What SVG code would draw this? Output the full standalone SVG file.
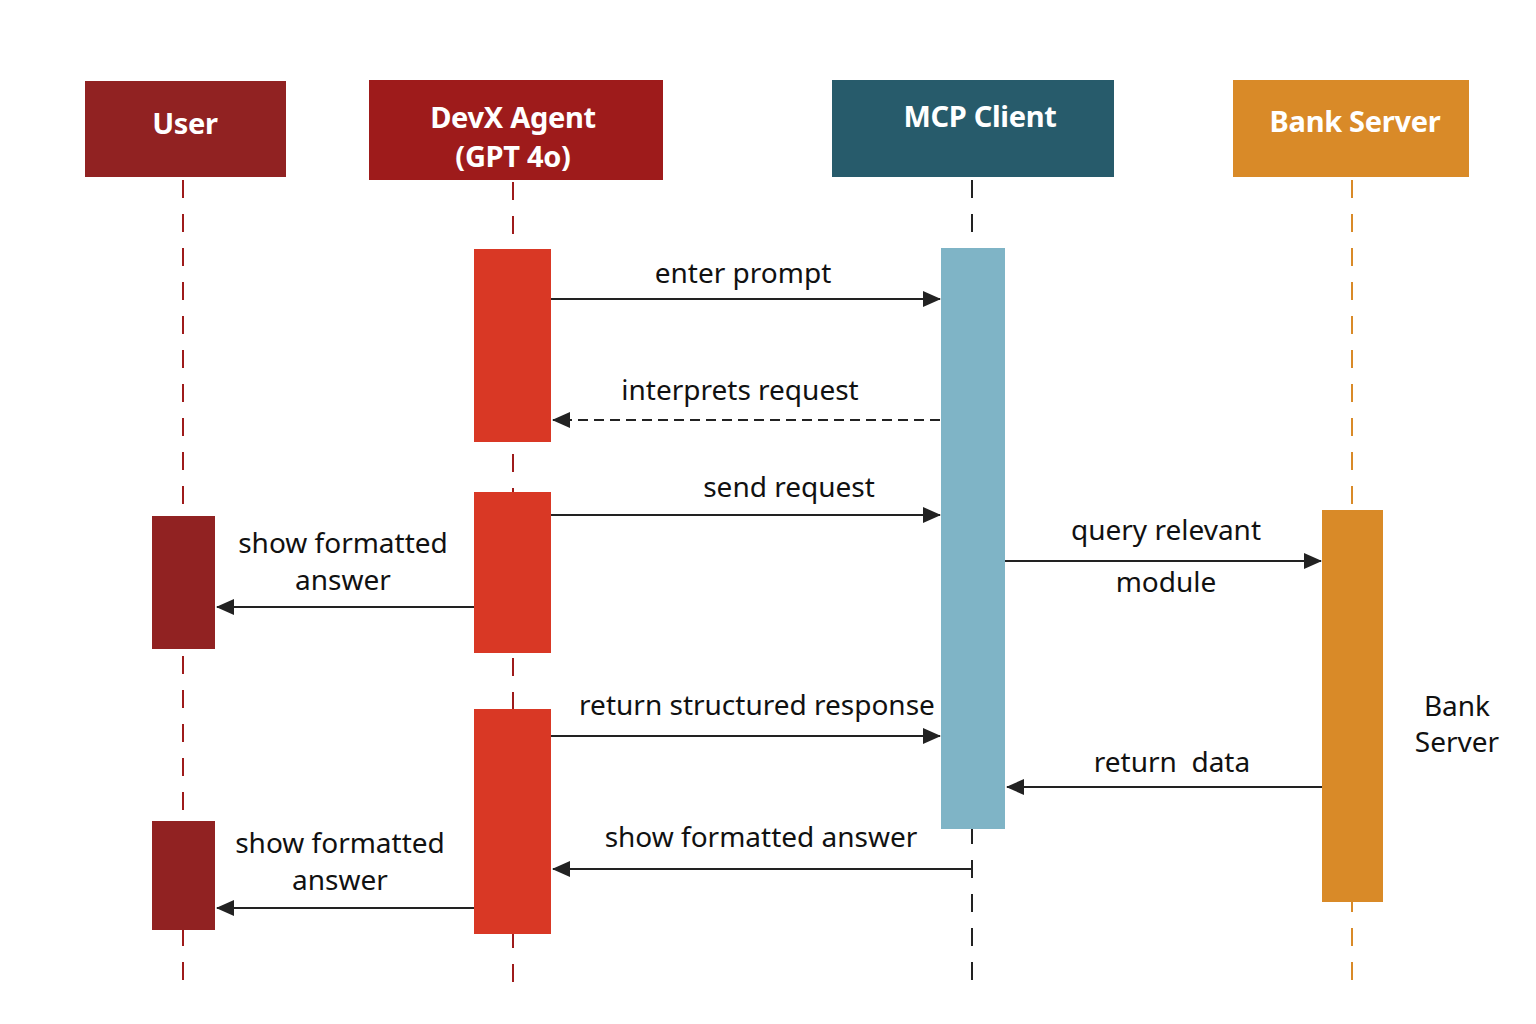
<svg xmlns="http://www.w3.org/2000/svg" width="1536" height="1024" viewBox="0 0 1536 1024">
<defs>
<marker id="arr" markerUnits="userSpaceOnUse" markerWidth="18" markerHeight="18" viewBox="0 0 18 18" refX="17" refY="9" orient="auto">
<path d="M0,1 L18,9 L0,17 Z" fill="#222"/>
</marker>
</defs>
<style>
.hdr{font-family:"Noto Sans","Open Sans",sans-serif;font-weight:bold;font-size:29px;fill:#fff;text-anchor:middle;letter-spacing:-0.3px}
.lbl{font-family:"Noto Sans","Open Sans",sans-serif;font-size:28px;fill:#111;text-anchor:middle;white-space:pre}
.msg{stroke:#222;stroke-width:2;fill:none;marker-end:url(#arr)}
.life{stroke-width:2;stroke-dasharray:18 16;fill:none}
</style>
<rect width="1536" height="1024" fill="#fff"/>
<g id="lifelines">
<line class="life" x1="183" y1="180" x2="183" y2="985" stroke="#9e1b1b"/>
<line class="life" x1="513" y1="182" x2="513" y2="990" stroke="#9e1b1b"/>
<line class="life" x1="972" y1="180" x2="972" y2="990" stroke="#222"/>
<line class="life" x1="1352" y1="180" x2="1352" y2="992" stroke="#d98a28"/>
</g>
<g id="user">
<rect x="85" y="81" width="201" height="96" fill="#912222"/>
<text class="hdr" x="185" y="134">User</text>
</g>
<g id="devx">
<rect x="369" y="80" width="294" height="100" fill="#9e1b1b"/>
<text class="hdr" x="513" y="128">DevX Agent</text>
<text class="hdr" x="513" y="167">(GPT 4o)</text>
</g>
<g id="mcp">
<rect x="832" y="80" width="282" height="97" fill="#275b6b"/>
<text class="hdr" x="980" y="127">MCP Client</text>
</g>
<g id="bank">
<rect x="1233" y="80" width="236" height="97" fill="#d98a28"/>
<text class="hdr" x="1355" y="132">Bank Server</text>
</g>
<g id="activations">
<rect x="474" y="249" width="77" height="193" fill="#d93825"/>
<rect x="474" y="492" width="77" height="161" fill="#d93825"/>
<rect x="474" y="709" width="77" height="225" fill="#d93825"/>
<rect x="152" y="516" width="63" height="133" fill="#912222"/>
<rect x="152" y="821" width="63" height="109" fill="#912222"/>
<rect x="941" y="248" width="64" height="581" fill="#7fb4c6"/>
<rect x="1322" y="510" width="61" height="392" fill="#d98a28"/>
</g>
<g id="connectors">
<line class="msg" x1="551" y1="299" x2="940" y2="299"/>
<line class="msg" x1="940" y1="420" x2="553" y2="420" stroke-dasharray="10 6"/>
<line class="msg" x1="551" y1="515" x2="940" y2="515"/>
<line class="msg" x1="1005" y1="561" x2="1321" y2="561"/>
<line class="msg" x1="474" y1="607" x2="217" y2="607"/>
<line class="msg" x1="551" y1="736" x2="940" y2="736"/>
<line class="msg" x1="1322" y1="787" x2="1007" y2="787"/>
<line class="msg" x1="972" y1="869" x2="553" y2="869"/>
<line class="msg" x1="474" y1="908" x2="217" y2="908"/>
</g>
<g id="labels">
<text class="lbl" x="743" y="283">enter prompt</text>
<text class="lbl" x="740" y="400">interprets request</text>
<text class="lbl" x="789" y="497">send request</text>
<text class="lbl" x="1166" y="540">query relevant</text>
<text class="lbl" x="1166" y="592">module</text>
<text class="lbl" x="343" y="553">show formatted</text>
<text class="lbl" x="343" y="590">answer</text>
<text class="lbl" x="757" y="715">return structured response</text>
<text class="lbl" x="1172" y="772">return  data</text>
<text class="lbl" x="761" y="847">show formatted answer</text>
<text class="lbl" x="340" y="853">show formatted</text>
<text class="lbl" x="340" y="890">answer</text>
<text class="lbl" x="1457" y="716">Bank</text>
<text class="lbl" x="1457" y="752">Server</text>
</g>
</svg>
